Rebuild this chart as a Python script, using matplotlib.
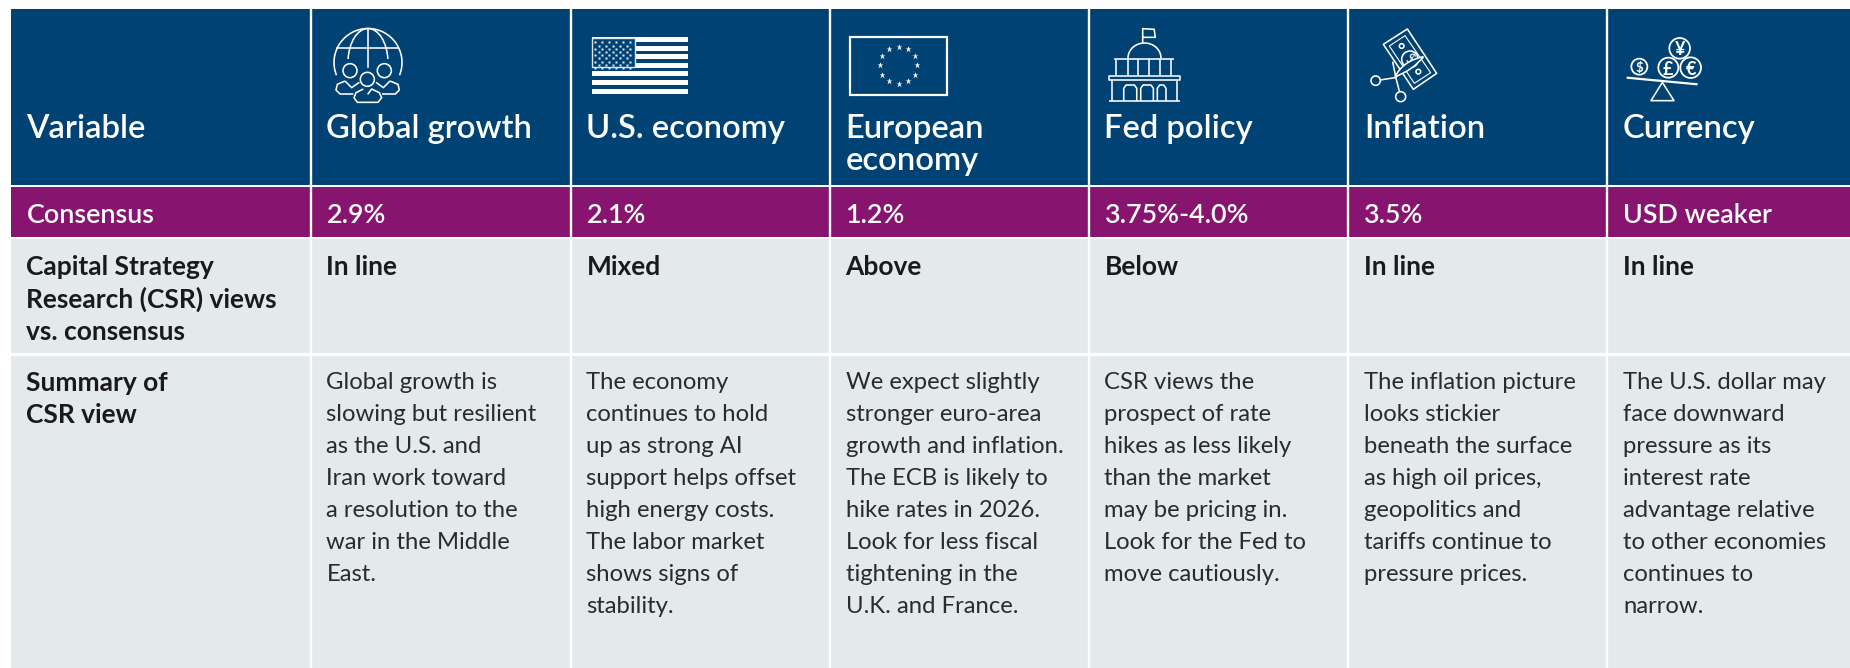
import numpy as np
import matplotlib
matplotlib.use('Agg')
import matplotlib.pyplot as plt
from matplotlib.patches import Rectangle, Circle, Arc, Polygon, PathPatch
from matplotlib.path import Path

plt.rcParams['font.family'] = ['Lato', 'Open Sans', 'DejaVu Sans']

NAVY = '#004274'
PURPLE = '#87156F'
GREY = '#E4E9EB'
INK = '#1A1A1A'
BODY_INK = '#2B2B2B'

# --- table content ---
row_labels = ['Variable', 'Consensus',
              ['Capital Strategy', 'Research (CSR) views', 'vs. consensus'],
              ['Summary of', 'CSR view']]
variables = [['Global growth'], ['U.S. economy'], ['European', 'economy'],
             ['Fed policy'], ['Inflation'], ['Currency']]
consensus = ['2.9%', '2.1%', '1.2%', '3.75%-4.0%', '3.5%', 'USD weaker']
csr_views = ['In line', 'Mixed', 'Above', 'Below', 'In line', 'In line']
summaries = [
    ['Global growth is', 'slowing but resilient', 'as the U.S. and', 'Iran work toward',
     'a resolution to the', 'war in the Middle', 'East.'],
    ['The economy', 'continues to hold', 'up as strong AI', 'support helps offset',
     'high energy costs.', 'The labor market', 'shows signs of', 'stability.'],
    ['We expect slightly', 'stronger euro-area', 'growth and inflation.', 'The ECB is likely to',
     'hike rates in 2026.', 'Look for less fiscal', 'tightening in the', 'U.K. and France.'],
    ['CSR views the', 'prospect of rate', 'hikes as less likely', 'than the market',
     'may be pricing in.', 'Look for the Fed to', 'move cautiously.'],
    ['The inflation picture', 'looks stickier', 'beneath the surface', 'as high oil prices,',
     'geopolitics and', 'tariffs continue to', 'pressure prices.'],
    ['The U.S. dollar may', 'face downward', 'pressure as its', 'interest rate',
     'advantage relative', 'to other economies', 'continues to', 'narrow.'],
]

col_edges = [11, 311, 570.5, 829.5, 1088.5, 1347.5, 1607, 1850]
text_x = [26.5, 326.5, 586.5, 845.5, 1104.5, 1364, 1623]

fig = plt.figure(figsize=(18.5, 6.68), dpi=100)
ax = fig.add_axes([0, 0, 1, 1])
ax.set_xlim(0, 1850)
ax.set_ylim(668, 0)
ax.axis('off')

# row bands: top, bottom, colour
rows = [(9, 184.5, NAVY), (187, 236.5, PURPLE), (238.5, 352.5, GREY), (355.5, 668, GREY)]
for top, bottom, color in rows:
    ax.add_patch(Rectangle((col_edges[0], top), col_edges[-1] - col_edges[0], bottom - top,
                           fc=color, ec='none', zorder=1))
for x in col_edges[1:-1]:
    ax.plot([x, x], [9, 668], color='white', lw=1.7, solid_capstyle='butt', zorder=2)


def put(x, y, s, size, color='white', weight='normal'):
    ax.text(x, y, s, fontsize=size, color=color, fontweight=weight, ha='left', va='baseline', zorder=5)


HEAD = 23.6
MID = 19.4
LABEL = 19.0
BODY = 17.2
HEAD_Y = 138
MID_Y = 223
LABEL_Y = 275
BODY_Y = 389
put(text_x[0], HEAD_Y, row_labels[0], HEAD, weight='semibold')
put(text_x[0], MID_Y, row_labels[1], MID, weight='semibold')
for i, line in enumerate(row_labels[2]):
    put(text_x[0], LABEL_Y + i * 32.5, line, LABEL, INK, 'bold')
for i, line in enumerate(row_labels[3]):
    put(text_x[0], BODY_Y + 2 + i * 32, line, LABEL, INK, 'bold')

for c in range(6):
    x = text_x[c + 1]
    for i, line in enumerate(variables[c]):
        put(x, HEAD_Y + i * 32, line, HEAD, weight='semibold')
    put(x, MID_Y, consensus[c], MID, weight='semibold')
    put(x, LABEL_Y, csr_views[c], LABEL, INK, 'bold')
    for i, line in enumerate(summaries[c]):
        put(x, BODY_Y + i * 32, line, BODY, BODY_INK, 'normal')

# --- header icons, drawn in local zoomed coordinates ---
LW = 1.15


def to_px(pts, ox, oy, sx=3.0, sy=3.0):
    pts = np.asarray(pts, dtype=float)
    return np.c_[ox + pts[:, 0] / sx, oy + pts[:, 1] / sy]


def stroke(pts, ox, oy, lw=LW, closed=False, fc='none', sx=3.0, sy=3.0, z=4):
    ax.add_patch(Polygon(to_px(pts, ox, oy, sx, sy), closed=closed, fc=fc, ec='white', lw=lw,
                         joinstyle='round', zorder=z))


def ring(cx, cy, r, ox, oy, lw=LW, z=4):
    ax.add_patch(Circle((ox + cx / 3, oy + cy / 3), r / 3, fc=NAVY, ec='white', lw=lw, zorder=z))


def curve(verts, ox, oy, fc='none', z=4):
    p = to_px(verts, ox, oy)
    codes = [Path.MOVETO] + [Path.CURVE3] * (len(p) - 1)
    ax.add_patch(PathPatch(Path(p, codes), fc=fc, ec='white', lw=LW, zorder=z))


# globe and people
ox, oy = 320, 25
cx, cy = 368, 62.5
ax.add_patch(Arc((cx, cy), 68, 68, theta1=158, theta2=382, ec='white', lw=LW, zorder=4))
ax.add_patch(Arc((cx, cy), 40, 68, theta1=190, theta2=350, ec='white', lw=LW, zorder=4))
ax.plot([337, 398], [48, 48], color='white', lw=LW, zorder=4)
ax.plot([cx, cx], [29, 67], color='white', lw=LW, zorder=4)
stroke([(75, 168), (52, 178), (48, 195), (60, 207), (100, 207)], ox, oy)
stroke([(75, 168), (95, 188), (118, 172)], ox, oy)
stroke([(210, 168), (190, 188), (168, 172)], ox, oy)
stroke([(210, 168), (234, 178), (238, 195), (226, 207), (186, 207)], ox, oy)
stroke([(130, 192), (108, 203), (102, 218), (112, 232), (174, 232), (185, 218), (178, 203),
        (155, 192), (143, 208), (130, 192)], ox, oy)
ring(90, 137, 21, ox, oy)
ring(193, 137, 21, ox, oy)
ring(142, 163, 21, ox, oy)

# US flag
ox, oy = 580, 25
for top in [36, 63, 87, 114, 138, 165, 192]:
    ax.add_patch(Rectangle((ox + 36 / 3, oy + top / 3), 96, 14 / 3, fc='white', ec='none', zorder=3))
ax.add_patch(Rectangle((ox + 36 / 3, oy + 38 / 3), 43, 29.5, fc=NAVY, ec='#DCE6EE', lw=1.0, zorder=4))
for r in range(9):
    n_cols = 6 if r % 2 == 0 else 5
    xs = ox + (46 + (0 if r % 2 == 0 else 10.5) + 21 * np.arange(n_cols)) / 3
    ax.plot(xs, np.full(n_cols, oy + (52 + r * 9.6) / 3), ls='none', marker='s', ms=1.5, mfc='#E6EEF4',
            mec='none', zorder=5)

# EU flag
ax.add_patch(Rectangle((850, 36.5), 97, 58, fc='none', ec='white', lw=1.6, zorder=4))
angles = np.deg2rad(np.arange(0, 360, 30))
ax.plot(898.5 + 18.6 * np.cos(angles), 65.3 + 18.6 * np.sin(angles), ls='none', marker='*', ms=5,
        mfc='white', mec='none', zorder=4)

# capitol
ox, oy = 600, 0
SX, SY = 2.53, 3.0


def cap(pts, closed=False):
    stroke(pts, ox, oy, closed=closed, sx=SX, sy=SY)


cap([(1373, 130), (1373, 86), (1402, 88), (1405, 112), (1373, 112)])
ax.add_patch(Arc((1144.5, 58), 33, 30, theta1=180, theta2=360, ec='white', lw=LW, zorder=4))
cap([(1300, 176), (1452, 176)])
for vx in [1305, 1335, 1362, 1390, 1418, 1445]:
    cap([(vx, 176), (vx, 228)])
cap([(1287, 228), (1467, 228), (1467, 240), (1287, 240)], closed=True)
cap([(1295, 240), (1295, 303)])
cap([(1460, 240), (1460, 303)])
cap([(1287, 304), (1467, 304)])
for a, b in [(1325, 1358), (1368, 1400), (1410, 1432)]:
    cap([(a, 303), (a, 265), (a + 6, 255), (b - 6, 255), (b, 265), (b, 303)])

# banknote and scissors
ox, oy = 1360, 20
stroke([(70, 73), (142, 27), (230, 160), (160, 208)], ox, oy, closed=True)
stroke([(88, 78), (135, 47), (212, 158), (163, 190)], ox, oy, closed=True, lw=0.8)
ring(150, 118, 25, ox, oy)
ring(125, 78, 7, ox, oy)
ring(175, 155, 7, ox, oy)
ax.text(ox + 150 / 3, oy + 118 / 3, '$', fontsize=11, color='white', ha='center', va='center',
        rotation=-30, zorder=5)
stroke([(60, 180), (105, 173), (190, 112)], ox, oy)
stroke([(118, 213), (108, 175), (98, 125)], ox, oy)
curve([(105, 170), (130, 122), (190, 110), (160, 150), (105, 170)], ox, oy, fc=NAVY, z=6)
ring(47, 182, 14, ox, oy)
ring(122, 230, 15, ox, oy)

# balance with currency coins
ox, oy = 1615, 25
stroke([(35, 158), (248, 178)], ox, oy, lw=1.6)
stroke([(142, 172), (108, 227), (177, 227)], ox, oy, closed=True)
coins = [('$', 73, 125, 24, 9.5), ('\u00a3', 160, 128, 30, 13), ('\u20ac', 227, 128, 31, 13), ('\u00a5', 194, 70, 31, 13)]
for sym, x, y, r, fs in coins:
    ring(x, y, r, ox, oy, lw=1.3)
    ax.text(ox + x / 3, oy + y / 3, sym, fontsize=fs, fontweight='bold', color='white',
            ha='center', va='center_baseline', zorder=5)

fig.savefig('out.png', dpi=100, facecolor='white')
